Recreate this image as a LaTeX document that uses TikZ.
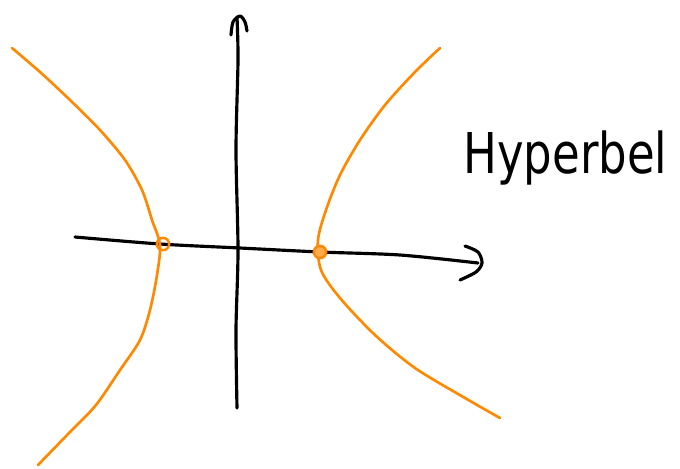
\documentclass[tikz,border=0pt]{standalone}
\usepackage{fontspec}
\setsansfont{DejaVu Sans}
\usetikzlibrary{calc}
\definecolor{hypcolor}{RGB}{255,136,0}

\begin{document}
\begin{tikzpicture}[x=0.02cm,y=-0.02cm,
 axis/.style={line width=1.8pt,line cap=round,line join=round},
 branch/.style={hypcolor,line width=1.5pt,line cap=round},
 vertex/.style={circle,draw=hypcolor,line width=1.4pt,inner sep=0pt,minimum size=7pt}]
 \useasboundingbox (0,0) rectangle (680,468);
 % axes
 \draw[axis] plot[smooth] coordinates {(75,237) (160,244) (240,248) (320,252) (400,255) (478,263)};
 \draw[axis] plot[smooth] coordinates {(465,246) (478,252) (482,263) (476,272) (460,280)};
 \draw[axis] plot[smooth] coordinates {(237,408) (236,330) (238,250) (236,150) (238,60) (237,17)};
 \draw[axis] plot[smooth] coordinates {(231,35) (233,22) (240,16) (245,22) (247,31)};
 % hyperbola branches
 \draw[branch] plot[smooth] coordinates {(12,48) (40,72) (70,100) (100,130) (125,160) (142,190) (152,220) (160,245) (157,275) (150,310) (140,340) (120,370) (96,405) (70,432) (38,465)};
 \draw[branch] plot[smooth] coordinates {(440,48) (415,72) (385,105) (360,140) (340,175) (326,210) (318,240) (321,270) (340,298) (375,335) (415,368) (465,398) (500,418)};
 % vertices
 \node[vertex] (vl) at (163,244) {};
 \node[vertex,fill=hypcolor!70] (vr) at (320,252) {};
 % label
 \node[font=\sffamily\fontsize{32}{32}\selectfont,anchor=west,inner sep=0pt] (lbl) at (463,158) {\scalebox{0.8}[1]{Hyperbel}};
\end{tikzpicture}
\end{document}
